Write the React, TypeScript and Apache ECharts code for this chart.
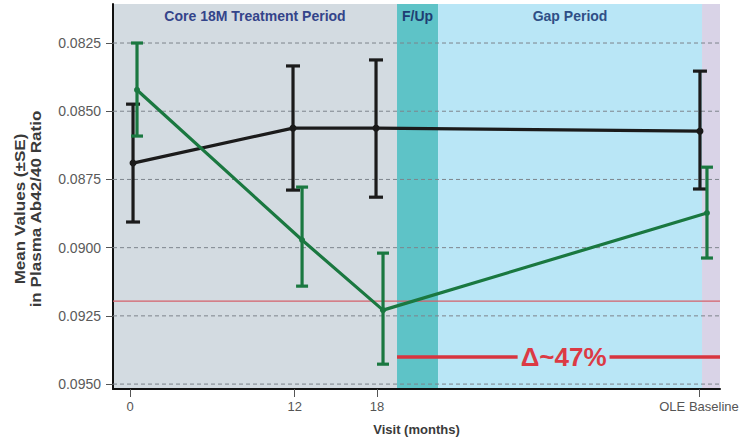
import React, { useEffect, useRef } from "react";
import * as echarts from "echarts";

// Visit positions (months) for each series (slightly offset as in the source figure)
const blackX = [0.22, 11.88, 17.93, 41.54];
const blackMean = [0.0869, 0.08562, 0.08562, 0.08573];
const blackLow = [0.08474, 0.08334, 0.08312, 0.08353];
const blackHigh = [0.08906, 0.08789, 0.08815, 0.08785];

const greenX = [0.51, 12.54, 18.44, 42.05];
const greenMean = [0.08422, 0.08972, 0.09229, 0.08873];
const greenLow = [0.0825, 0.08778, 0.0902, 0.08705];
const greenHigh = [0.08591, 0.09141, 0.09427, 0.09038];

const xTickValues = [0, 12, 18, 41.47];
const xTickLabels = ["0", "12", "18", "OLE Baseline"];
const yTickValues = [0.0825, 0.085, 0.0875, 0.09, 0.0925, 0.095];

// Period bands (months)
const periods = [
  { name: "Core 18M Treatment Period", from: -1.24, to: 19.46, color: "#d3dbe1", text: "#34448a" },
  { name: "F/Up", from: 19.46, to: 22.45, color: "#5ec3c7", text: "#1e3d73" },
  { name: "Gap Period", from: 22.45, to: 41.69, color: "#b9e6f6", text: "#2f4f86" },
  { name: "", from: 41.69, to: 43, color: "#d9d3e7", text: "#333" },
];

const thresholdValue = 0.09196;
const deltaValue = 0.09401;
const deltaStart = 19.46;
const deltaLabel = "Δ~47%";
const deltaLabelX = 31.6;

const X_MIN = -1.24;
const X_MAX = 43;
const Y_MIN = 0.08107;
const Y_MAX = 0.09518;

const FONT = "Liberation Sans, Arial, sans-serif";

function errorBar(color: string, capHalf: number) {
  return (params: any, api: any) => {
    const x = api.value(0);
    const lo = api.coord([x, api.value(1)]);
    const hi = api.coord([x, api.value(2)]);
    const st = { stroke: color, lineWidth: 3.2 };
    return {
      type: "group",
      children: [
        { type: "line", shape: { x1: lo[0], y1: lo[1], x2: hi[0], y2: hi[1] }, style: st },
        { type: "line", shape: { x1: lo[0] - capHalf, y1: lo[1], x2: lo[0] + capHalf, y2: lo[1] }, style: st },
        { type: "line", shape: { x1: hi[0] - capHalf, y1: hi[1], x2: hi[0] + capHalf, y2: hi[1] }, style: st },
      ],
    };
  };
}

function hLine(name: string, y: number, x0: number, x1: number, style: any, z: number) {
  return {
    type: "line",
    name,
    data: [
      [x0, y],
      [x1, y],
    ],
    symbol: "none",
    silent: true,
    lineStyle: style,
    z,
  };
}

const yTitle = {
  type: "text",
  x: 28,
  y: 209,
  rotation: Math.PI / 2,
  scaleX: 1.22,
  style: {
    text: "Mean Values (±SE)\nin Plasma Ab42/40 Ratio",
    fontSize: 14,
    fontWeight: "bold",
    fill: "#3a3a3a",
    fontFamily: FONT,
    align: "center",
    verticalAlign: "middle",
    lineHeight: 16,
  },
};

export default function App() {
  const ref = useRef<HTMLDivElement>(null);
  useEffect(() => {
    if (!ref.current) return;
    const chart = echarts.init(ref.current, null, { renderer: "svg" });
    const blackLine = blackX.map((x, i) => [x, blackMean[i]]);
    const greenLine = greenX.map((x, i) => [x, greenMean[i]]);
    const blackErr = blackX.map((x, i) => [x, blackLow[i], blackHigh[i]]);
    const greenErr = greenX.map((x, i) => [x, greenLow[i], greenHigh[i]]);

    const gridSeries = yTickValues.map((v, i) =>
      hLine("grid" + i, v, X_MIN, X_MAX, { type: [4, 3], color: "#7d848c", width: 1 }, 1)
    );

    chart.setOption({
      animation: false,
      textStyle: { fontFamily: FONT },
      grid: { left: 113, top: 4, right: 24, bottom: 53 },
      xAxis: {
        type: "value",
        min: X_MIN,
        max: X_MAX,
        name: "Visit (months)",
        nameLocation: "middle",
        nameGap: 34,
        nameTextStyle: { fontSize: 13, fontWeight: "bold", color: "#3a3a3a", fontFamily: FONT },
        axisLine: { show: true, onZero: false, lineStyle: { color: "#111", width: 2 } },
        axisTick: { show: true, customValues: xTickValues, length: 8, lineStyle: { color: "#555" } },
        axisLabel: {
          customValues: xTickValues,
          margin: 11,
          fontSize: 13,
          color: "#555",
          fontFamily: FONT,
          formatter: (v: number) => {
            const i = xTickValues.findIndex((t) => Math.abs(t - v) < 1e-6);
            return i >= 0 ? xTickLabels[i] : "";
          },
        },
        splitLine: { show: false },
      },
      yAxis: {
        type: "value",
        inverse: true,
        min: Y_MIN,
        max: Y_MAX,
        axisLine: { show: true, onZero: false, lineStyle: { color: "#111", width: 2 } },
        axisTick: { show: true, customValues: yTickValues, length: 7, lineStyle: { color: "#555" } },
        axisLabel: {
          customValues: yTickValues,
          margin: 12,
          fontSize: 14,
          color: "#5a5a5a",
          fontFamily: FONT,
          formatter: (v: number) => v.toFixed(4),
        },
        splitLine: { show: false },
      },
      graphic: [yTitle],
      series: [
        {
          type: "line",
          name: "bands",
          data: blackLine,
          symbol: "none",
          lineStyle: { opacity: 0 },
          silent: true,
          z: 0,
          markArea: {
            silent: true,
            z: 0,
            data: periods.map((p) => [
              {
                xAxis: p.from,
                itemStyle: { color: p.color },
                label: {
                  show: !!p.name,
                  formatter: p.name,
                  position: "insideTop",
                  distance: 5,
                  fontSize: 14,
                  fontWeight: "bold",
                  color: p.text,
                  fontFamily: FONT,
                },
              },
              { xAxis: p.to },
            ]),
          },
        },
        ...gridSeries,
        hLine("threshold", thresholdValue, X_MIN, X_MAX, { type: "solid", color: "#d4616a", width: 1.2 }, 2),
        hLine("delta", deltaValue, deltaStart, X_MAX, { type: "solid", color: "#d8353f", width: 3.5 }, 2),
        {
          type: "line",
          name: "Black",
          data: blackLine,
          symbol: "circle",
          symbolSize: 7,
          itemStyle: { color: "#1b1b1b" },
          lineStyle: { color: "#1b1b1b", width: 3.2 },
          z: 3,
        },
        {
          type: "custom",
          name: "Black SE",
          data: blackErr,
          encode: { x: 0, y: [1, 2] },
          renderItem: errorBar("#1b1b1b", 7),
          z: 4,
        },
        {
          type: "line",
          name: "Green",
          data: greenLine,
          symbol: "circle",
          symbolSize: 6,
          itemStyle: { color: "#1a7840" },
          lineStyle: { color: "#1a7840", width: 3.2 },
          z: 5,
        },
        {
          type: "custom",
          name: "Green SE",
          data: greenErr,
          encode: { x: 0, y: [1, 2] },
          renderItem: errorBar("#1a7840", 6),
          z: 6,
        },
      ],
    });

    const p = chart.convertToPixel({ gridIndex: 0 }, [deltaLabelX, deltaValue]) as number[];
    chart.setOption({
      graphic: [
        yTitle,
        {
          type: "text",
          x: p[0],
          y: p[1],
          z: 10,
          style: {
            text: deltaLabel,
            fontSize: 26,
            fontWeight: "bold",
            fill: "#dc3a44",
            fontFamily: FONT,
            align: "center",
            verticalAlign: "middle",
            backgroundColor: "#b9e6f6",
            padding: [0, 3],
          },
        },
      ],
    });
    return () => chart.dispose();
  }, []);
  return <div ref={ref} style={{ position: "absolute", left: 0, top: 0, width: 744, height: 442 }} />;
}
